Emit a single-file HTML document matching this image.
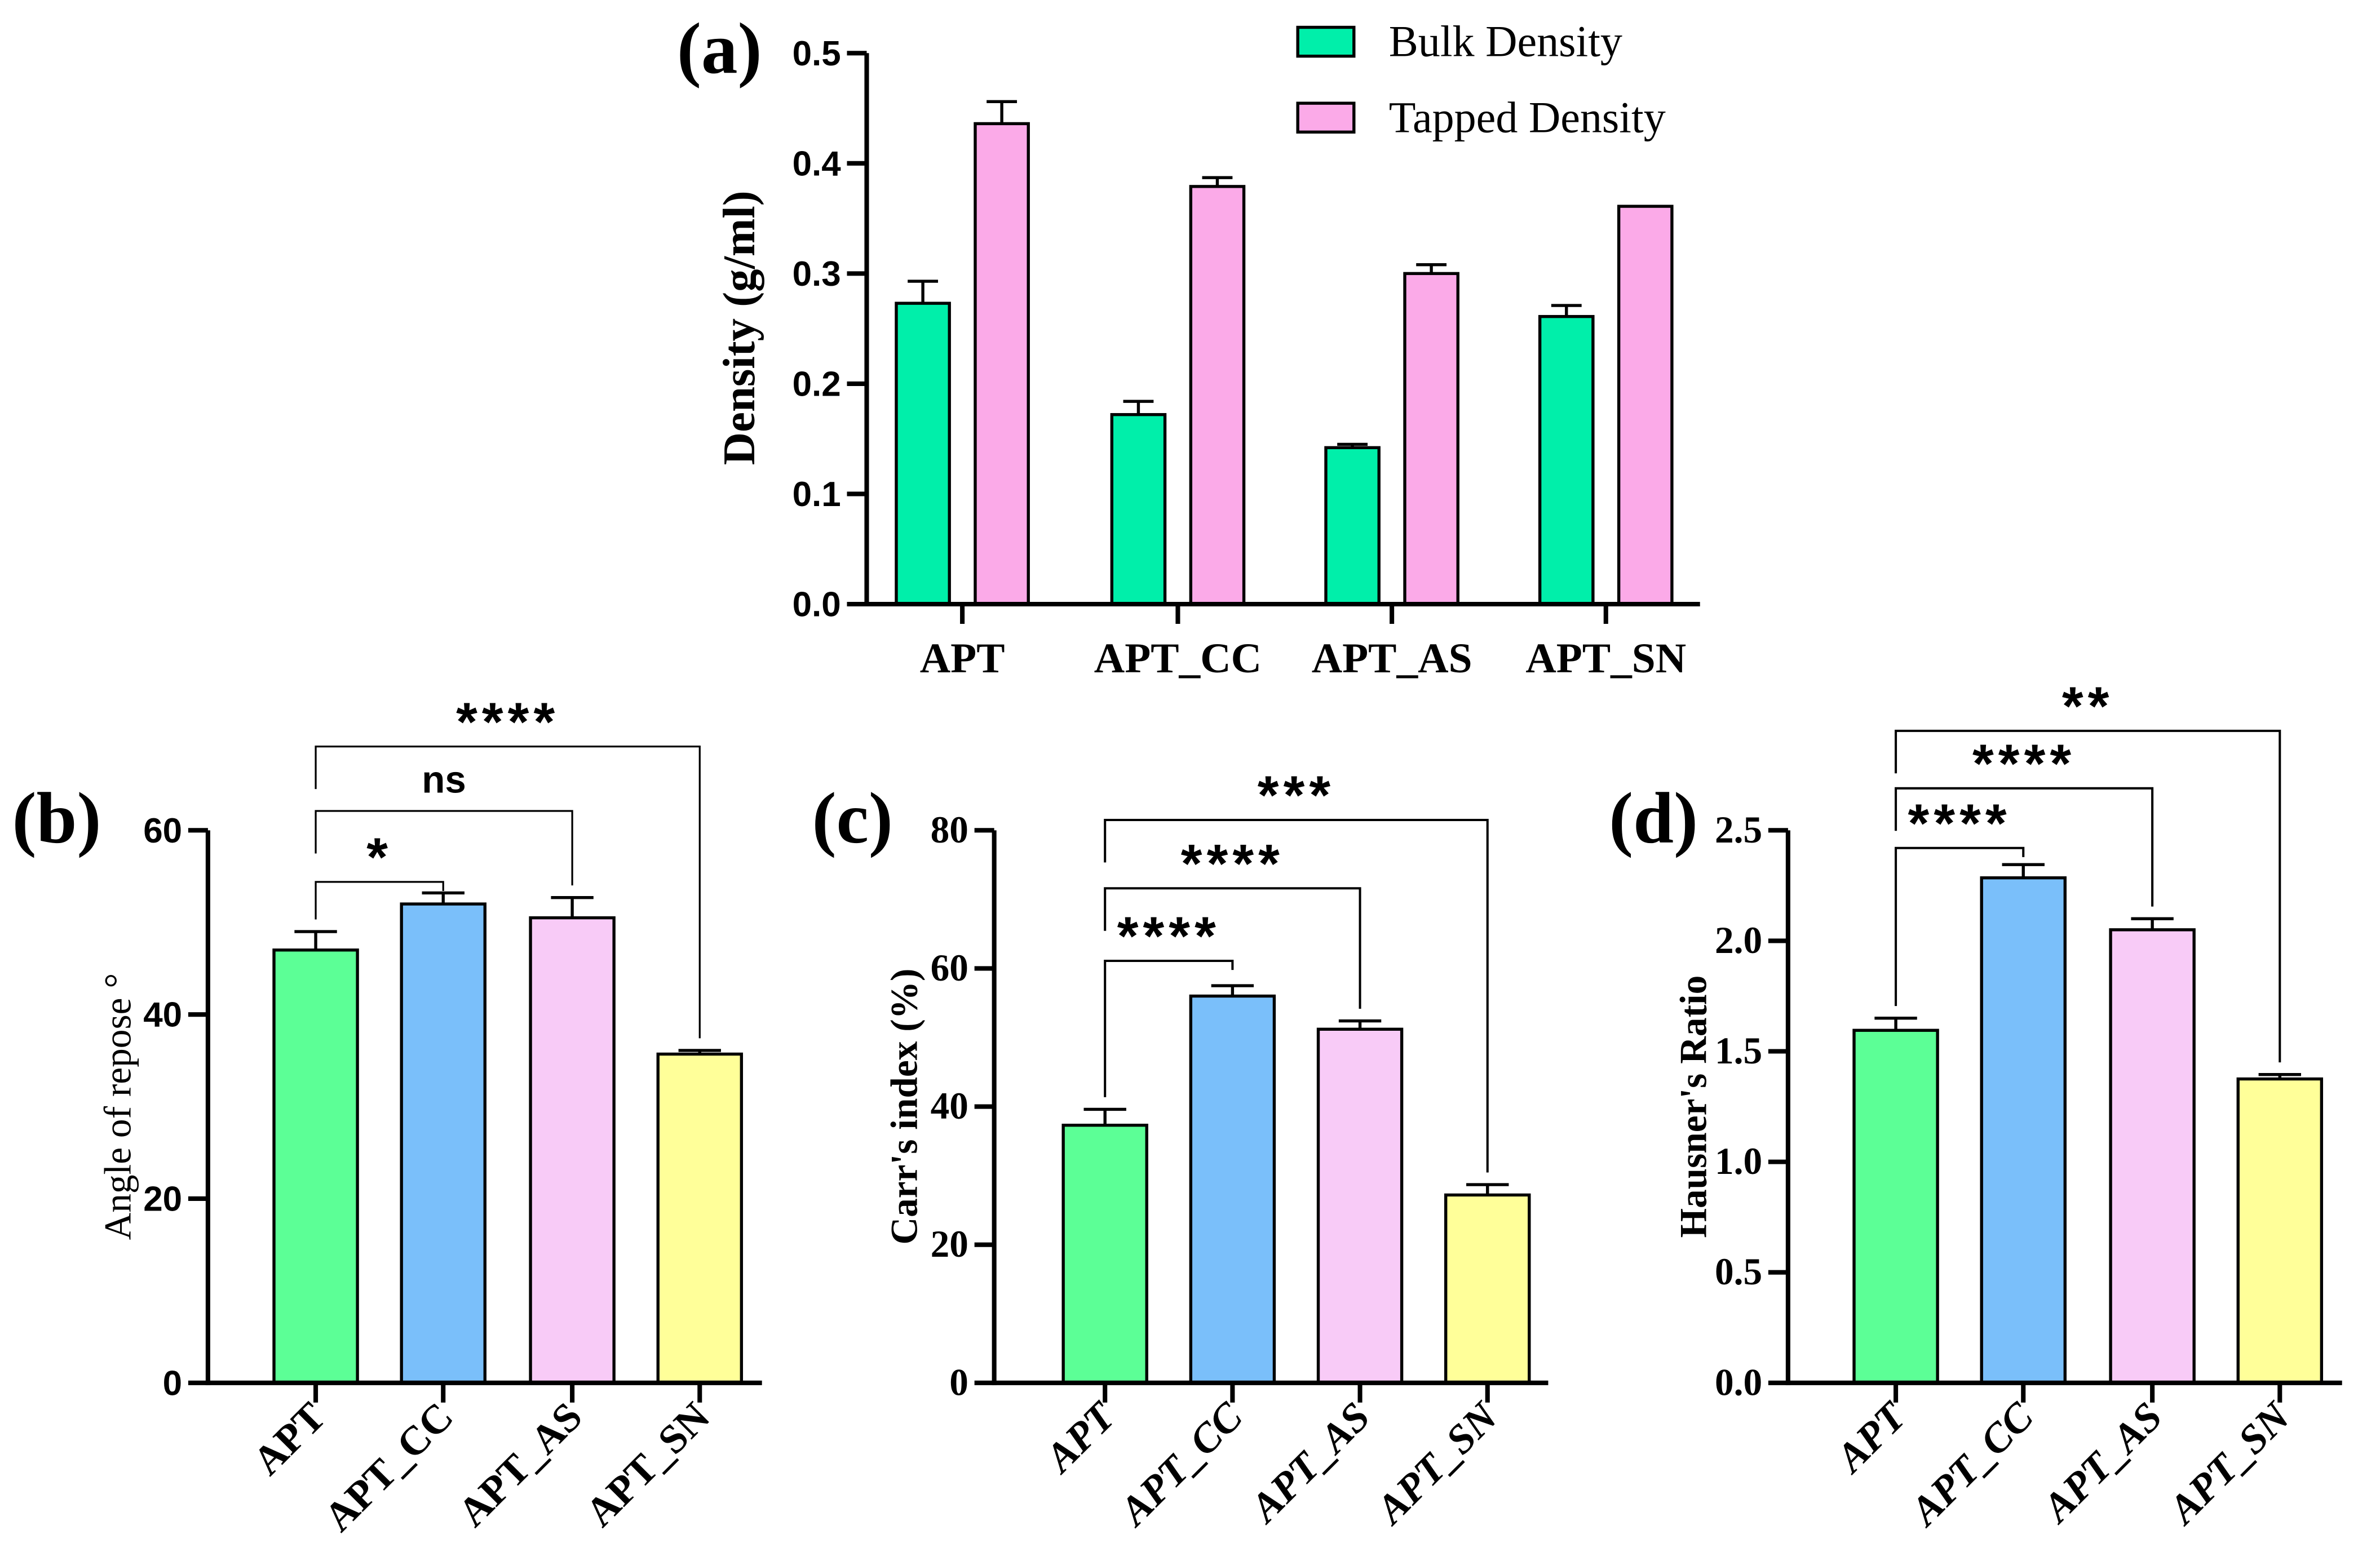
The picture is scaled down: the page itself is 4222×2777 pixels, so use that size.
<!DOCTYPE html>
<html><head><meta charset="utf-8"><style>
html,body{margin:0;padding:0;background:#fff;width:4222px;height:2777px;overflow:hidden}
svg{display:block}
.tb{font-family:"Liberation Serif",serif;font-weight:bold}
.ab{font-family:"Liberation Sans",sans-serif;font-weight:bold}
</style></head><body>
<svg id="fig" width="4222" height="2777" viewBox="0 0 1568 1031" preserveAspectRatio="none" xmlns="http://www.w3.org/2000/svg"></svg>
<script>
// Panel (a)
const aCategories = ["APT","APT_CC","APT_AS","APT_SN"];
const aBulk = [0.273,0.172,0.142,0.261];
const aBulkErr = [0.020,0.012,0.003,0.010];
const aTapped = [0.436,0.379,0.300,0.361];
const aTappedErr = [0.020,0.008,0.008,0.000];
const aTicks = ["0.0","0.1","0.2","0.3","0.4","0.5"];
// Panel (b)
const bCategories = ["APT","APT_CC","APT_AS","APT_SN"];
const bValues = [47.0,52.0,50.5,35.7];
const bErr = [2.0,1.2,2.2,0.4];
const bTicks = ["0","20","40","60"];
const bBrackets = [54.4,62.1,69.1];
const bBracketEnds = [1,2,3];
const bStars = ["*","ns","****"];
// Panel (c)
const cCategories = ["APT","APT_CC","APT_AS","APT_SN"];
const cValues = [37.3,56.0,51.2,27.2];
const cErr = [2.3,1.5,1.2,1.5];
const cTicks = ["0","20","40","60","80"];
const cBrackets = [61.1,71.6,81.5];
const cBracketEnds = [1,2,3];
const cStars = ["****","****","***"];
// Panel (d)
const dCategories = ["APT","APT_CC","APT_AS","APT_SN"];
const dValues = [1.595,2.285,2.05,1.375];
const dErr = [0.055,0.06,0.05,0.02];
const dTicks = ["0.0","0.5","1.0","1.5","2.0","2.5"];
const dBrackets = [2.42,2.69,2.95];
const dBracketEnds = [1,2,3];
const dStars = ["****","****","**"];

const NS="http://www.w3.org/2000/svg";
const svg=document.getElementById('fig');
function el(tag,attrs,parent,text){const e=document.createElementNS(NS,tag);for(const k in attrs)e.setAttribute(k,attrs[k]);if(text!==undefined)e.textContent=text;(parent||svg).appendChild(e);return e;}

const barColors=["#5CFF96","#7ABFFA","#F8CBF7","#FFFF99"];

// ---------- Panel a ----------
(function(){
  const g=el('g',{});
  
  
  const x0=571,x1=1120,y0=398,yTop=35,max=0.5;
  const y=v=>y0-(v/max)*(y0-yTop);
  const centers=[634,776,917,1058];
  const bw=35;
  aCategories.forEach((c,i)=>{
    const cx=centers[i];
    [[aBulk,aBulkErr,"#00EFAA",-26,'bar-bulk-'],[aTapped,aTappedErr,"#FBAAE8",26,'bar-tapped-']].forEach(s=>{
      const v=s[0][i],e=s[1][i],bx=cx+s[3];
      if(e>0){const eb=el('path',{d:`M${bx} ${y(v)}V${y(v+e)}M${bx-10} ${y(v+e)}H${bx+10}`,stroke:'#000','stroke-width':2,fill:'none'},g);
        }
      const r=el('rect',{x:bx-bw/2,y:y(v),width:bw,height:y0-y(v),fill:s[2],stroke:'#000','stroke-width':2},g);
      
      
    });
    el('line',{x1:cx,y1:y0,x2:cx,y2:y0+13,stroke:'#000','stroke-width':3},g);
    const t=el('text',{x:cx,y:y0+45,'text-anchor':'middle','font-size':28,class:'tb'},g,c);
    
  });
  aTicks.forEach(tk=>{
    const v=parseFloat(tk);
    el('line',{x1:x0-13,y1:y(v),x2:x0,y2:y(v),stroke:'#000','stroke-width':3},g);
    const t=el('text',{x:x0-17,y:y(v)+8,'text-anchor':'end','font-size':23,class:'ab'},g,tk);
    
  });
  el('line',{x1:x0,y1:yTop,x2:x0,y2:y0+1.5,stroke:'#000','stroke-width':3},g);
  el('line',{x1:x0-1.5,y1:y0,x2:x1,y2:y0,stroke:'#000','stroke-width':3},g);
  const yl=el('text',{x:0,y:0,transform:`translate(497 216) rotate(-90)`,'text-anchor':'middle','font-size':30,class:'tb'},g,'Density (g/ml)');
  
  const pl=el('text',{x:446,y:48,'font-size':48,class:'tb'},g,'(a)');
  
  [["#00EFAA","Bulk Density",18],["#FBAAE8","Tapped Density",68]].forEach((L,i)=>{
    const lg=el('g',{},g);
    
    el('rect',{x:855,y:L[2],width:37,height:19,fill:L[0],stroke:'#000','stroke-width':2},lg);
    el('text',{x:915,y:L[2]+19,'font-size':29,'font-family':'Liberation Serif, serif'},lg,L[1]);
  });
})();

// ---------- Panels b, c, d ----------
function panel(opt){
  const g=el('g',{});
  
  
  const x0=opt.x0,y0=911,yTop=547,max=opt.max;
  const y=v=>y0-(v/max)*(y0-yTop);
  const centers=opt.centers,bw=55;
  opt.cats.forEach((c,i)=>{
    const cx=centers[i],v=opt.vals[i],e=opt.err[i];
    const eb=el('path',{d:`M${cx} ${y(v)}V${y(v+e)}M${cx-14} ${y(v+e)}H${cx+14}`,stroke:'#000','stroke-width':2,fill:'none'},g);
    
    const r=el('rect',{x:cx-bw/2,y:y(v),width:bw,height:y0-y(v),fill:barColors[i],stroke:'#000','stroke-width':2},g);
    
    
    el('line',{x1:cx,y1:y0,x2:cx,y2:y0+13,stroke:'#000','stroke-width':3},g);
    const t=el('text',{x:0,y:0,transform:`translate(${cx+8} ${y0+24}) rotate(-45)`,'text-anchor':'end','font-size':27,class:'tb','font-style':opt.italic?'italic':'normal'},g,c);
    
  });
  opt.ticks.forEach(tk=>{
    const v=parseFloat(tk);
    el('line',{x1:x0-13,y1:y(v),x2:x0,y2:y(v),stroke:'#000','stroke-width':3},g);
    const t=el('text',{x:x0-17,y:y(v)+8,'text-anchor':'end','font-size':opt.tickFont=='ab'?23:25,class:opt.tickFont},g,tk);
    
  });
  el('line',{x1:x0,y1:yTop,x2:x0,y2:y0+1.5,stroke:'#000','stroke-width':3},g);
  el('line',{x1:x0-1.5,y1:y0,x2:x0+365,y2:y0,stroke:'#000','stroke-width':3},g);
  opt.brackets.forEach((bv,k)=>{
    const j=opt.ends[k],xl=centers[0],xr=centers[j],by=y(bv);
    const rightBottom=y(opt.vals[j]+opt.err[j])-8;
    const p=el('path',{d:`M${xl} ${k==0?y(opt.vals[0]+opt.err[0])-8:by+28}V${by}H${xr}V${k==0?by+6:rightBottom}`,stroke:'#000','stroke-width':opt.bw||1.5,fill:'none'},g);
    
    const isNs=opt.stars[k]=='ns';
    const s=el('text',{x:(xl+xr)/2,y:by-(isNs?12:4),'text-anchor':'middle','font-size':isNs?25:36,'letter-spacing':isNs?0:3,class:'ab'},g,opt.stars[k]);
    
  });
  const yl=el('text',{x:0,y:0,transform:`translate(${opt.ylx} 729) rotate(-90)`,'text-anchor':'middle','font-size':opt.ylBold?25:25,class:opt.ylBold?'tb':'','font-family':'Liberation Serif, serif'},g,opt.ylabel);
  
  const pl=el('text',{x:opt.plx,y:555,'font-size':48,class:'tb'},g,opt.plabel);
  
}
panel({name:'panel-b',x0:137,max:60,centers:[208,292,377,461],cats:bCategories,vals:bValues,err:bErr,ticks:bTicks,brackets:bBrackets,ends:bBracketEnds,stars:bStars,tickFont:'ab',ylabel:'Angle of repose °',ylx:86,plx:8,plabel:'(b)',bw:1.2});
panel({name:'panel-c',x0:655,max:80,centers:[728,812,896,980],cats:cCategories,vals:cValues,err:cErr,ticks:cTicks,brackets:cBrackets,ends:cBracketEnds,stars:cStars,tickFont:'tb',ylabel:"Carr's index (%)",ylx:604,plx:535,plabel:'(c)',ylBold:true,italic:true,bw:1.5});
panel({name:'panel-d',x0:1178,max:2.5,centers:[1249,1333,1418,1502],cats:dCategories,vals:dValues,err:dErr,ticks:dTicks,brackets:dBrackets,ends:dBracketEnds,stars:dStars,tickFont:'tb',ylabel:"Hausner's Ratio",ylx:1124,plx:1060,plabel:'(d)',ylBold:true,italic:true,bw:1.5});
</script>
</body></html>
